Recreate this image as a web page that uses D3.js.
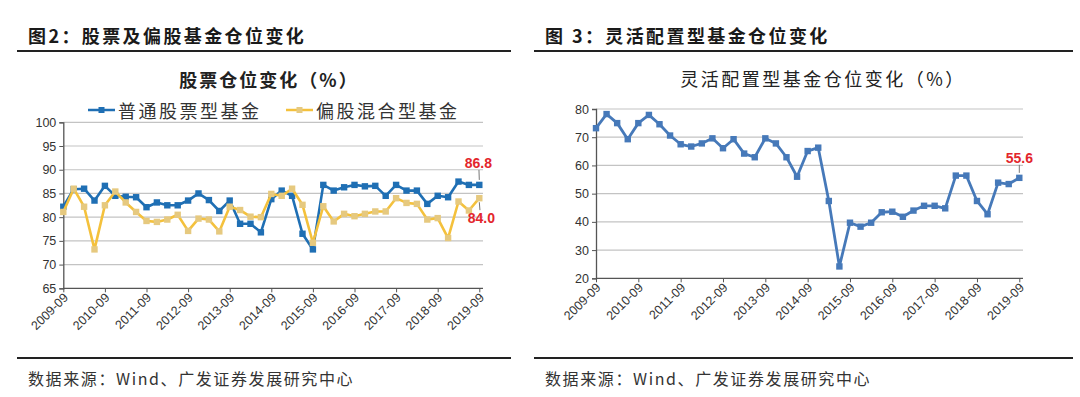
<!DOCTYPE html>
<html>
<head>
    <meta charset="UTF-8">
    <title>股票及灵活配置型基金仓位变化</title>
    <script src="https://cdn.jsdelivr.net/npm/d3@7"></script>
    <style>
        body { margin: 0; background: #fff; }
        text { font-family: "Noto Sans CJK SC", "Liberation Sans", sans-serif; }
        .num { font-family: "Liberation Sans", Arial, sans-serif; }
    </style>
</head>
<body>
<div id="chartContainer"></div>

<script type="text/javascript">
// quarterly categories, 2009-09 .. 2019-09
var quarters = [
    "2009-09","2009-12","2010-03","2010-06","2010-09","2010-12","2011-03","2011-06",
    "2011-09","2011-12","2012-03","2012-06","2012-09","2012-12","2013-03","2013-06",
    "2013-09","2013-12","2014-03","2014-06","2014-09","2014-12","2015-03","2015-06",
    "2015-09","2015-12","2016-03","2016-06","2016-09","2016-12","2017-03","2017-06",
    "2017-09","2017-12","2018-03","2018-06","2018-09","2018-12","2019-03","2019-06",
    "2019-09"
];
// tick labels shown on the x axis
var yearTicks = ["2009-09","2010-09","2011-09","2012-09","2013-09","2014-09",
                 "2015-09","2016-09","2017-09","2018-09","2019-09"];

// 图2 series (%)
var stockFund = [82.2, 85.9, 86.0, 83.5, 86.6, 84.5, 84.3, 84.2, 82.1, 83.1,
                 82.5, 82.5, 83.5, 85.0, 83.6, 81.3, 83.5, 78.6, 78.6, 76.8,
                 83.8, 85.6, 84.5, 76.5, 73.2, 86.8, 85.6, 86.3, 86.8, 86.5,
                 86.6, 84.5, 86.8, 85.6, 85.6, 82.8, 84.5, 84.2, 87.5, 86.8, 86.8];
var mixedFund = [81.1, 86.0, 82.2, 73.2, 82.5, 85.4, 83.1, 81.1, 79.2, 79.0,
                 79.5, 80.5, 77.1, 79.7, 79.5, 77.0, 82.2, 81.5, 80.1, 80.0,
                 84.9, 84.5, 86.0, 82.6, 74.6, 82.3, 79.1, 80.7, 80.2, 80.7,
                 81.2, 81.2, 84.0, 83.0, 82.8, 79.5, 79.8, 75.6, 83.3, 81.4, 84.0];
var leftTicks = [65, 70, 75, 80, 85, 90, 95, 100];

// 图3 series (%)
var flexFund = [73.2, 78.2, 75.0, 69.3, 75.0, 77.9, 74.6, 70.6, 67.5, 66.7,
                67.8, 69.6, 66.1, 69.3, 64.2, 62.9, 69.6, 67.8, 62.9, 56.0,
                65.1, 66.3, 47.4, 24.2, 39.7, 38.3, 39.7, 43.4, 43.6, 41.8,
                44.0, 45.7, 45.7, 44.8, 56.4, 56.4, 47.4, 42.7, 53.9, 53.4, 55.6];
var rightTicks = [20, 30, 40, 50, 60, 70, 80];

var svg = d3.select("#chartContainer").append("svg")
    .attr("width", 1080).attr("height", 397);

// header, rules and source note of one panel
function drawFrame(x0, x1, tx, title) {
    svg.append("text")
        .attr("x", tx).attr("y", 35)
        .attr("dominant-baseline", "central")
        .style("font-size", "18px").style("font-weight", "bold")
        .style("letter-spacing", "2.4px")
        .style("fill", "#1a1a1a")
        .text(title);
    [51, 358].forEach(function (y) {
        svg.append("line")
            .attr("x1", x0).attr("x2", x1).attr("y1", y).attr("y2", y)
            .style("stroke", "#222").style("stroke-width", 2);
    });
    svg.append("text")
        .attr("x", tx).attr("y", 378)
        .attr("dominant-baseline", "central")
        .style("font-size", "16px").style("letter-spacing", "1.6px")
        .style("fill", "#333")
        .text("数据来源：Wind、广发证券发展研究中心");
}

// axes, gridlines and category ticks of one plot
function drawAxes(x, y, ticks, gridEnd) {
    var g = svg.append("g");
    var x0 = x(0), y0 = y(ticks[0]);

    g.selectAll(".grid").data(ticks.slice(1)).enter().append("line")
        .attr("x1", x0).attr("x2", gridEnd)
        .attr("y1", function (d) { return y(d); })
        .attr("y2", function (d) { return y(d); })
        .style("stroke", "#c3c3c3").style("stroke-width", 1.2);

    var yAxis = g.append("g").attr("transform", "translate(" + x0 + ",0)")
        .call(d3.axisLeft(y).tickValues(ticks).tickSize(4).tickPadding(3));
    var xAxis = g.append("g").attr("transform", "translate(0," + y0 + ")")
        .call(d3.axisBottom(x)
            .tickValues(yearTicks.map(function (t) { return quarters.indexOf(t); }))
            .tickSize(4).tickFormat(function (i) { return quarters[i]; }));
    xAxis.select(".domain").attr("d", "M" + x0 + ",0H" + gridEnd);

    [yAxis, xAxis].forEach(function (a) {
        a.select(".domain").style("stroke", "#555").style("stroke-width", 1.3);
        a.selectAll(".tick line").style("stroke", "#555");
        a.selectAll("text").attr("class", "num")
            .style("fill", "#333").style("font-size", "12px");
    });
    yAxis.selectAll("text").style("font-size", "12.5px");
    xAxis.selectAll("text")
        .style("font-size", "12.5px")
        .style("text-anchor", "end")
        .attr("dy", null).attr("y", 0)
        .attr("transform", "translate(5,10) rotate(-45)");
}

function drawSeries(x, y, values, lineColor, markColor, width) {
    var line = d3.line()
        .x(function (d, i) { return x(i); })
        .y(function (d) { return y(d); });
    svg.append("path").datum(values)
        .attr("d", line)
        .style("fill", "none").style("stroke", lineColor)
        .style("stroke-width", width).style("stroke-linejoin", "round");
    svg.selectAll(null).data(values).enter().append("rect")
        .attr("x", function (d, i) { return x(i) - 3.2; })
        .attr("y", function (d) { return y(d) - 3.2; })
        .attr("width", 6.4).attr("height", 6.4)
        .style("fill", markColor);
}

// red value label with a short leader to the last point
function drawCallout(x, y, values, dy, dx) {
    var i = values.length - 1, px = x(i), py = y(values[i]);
    var ty = py + dy;
    svg.append("line")
        .attr("x1", px).attr("x2", px + dx / 3)
        .attr("y1", py + (dy < 0 ? -5 : 4))
        .attr("y2", ty + (dy < 0 ? 7 : -8))
        .style("stroke", "#777").style("stroke-width", 1);
    svg.append("text").attr("class", "num")
        .attr("x", px + dx).attr("y", ty)
        .attr("text-anchor", "middle").attr("dominant-baseline", "central")
        .style("font-size", "14px").style("font-weight", "bold")
        .style("fill", "#e3262c")
        .text(values[i].toFixed(1));
}

/* ---------------- 图2 ---------------- */
drawFrame(17, 511, 28, "图2：股票及偏股基金仓位变化");

svg.append("text")
    .attr("x", 269).attr("y", 79)
    .attr("text-anchor", "middle").attr("dominant-baseline", "central")
    .style("font-size", "18px").style("font-weight", "bold")
    .style("letter-spacing", "2px").style("fill", "#222")
    .text("股票仓位变化（%）");

var legendItems = [
    { name: "普通股票型基金", line: "#1f6fb4", mark: "#1f6fb4", x: 88 },
    { name: "偏股混合型基金", line: "#f4c13c", mark: "#e6c97f", x: 286 }
];
legendItems.forEach(function (d) {
    svg.append("line")
        .attr("x1", d.x).attr("x2", d.x + 27).attr("y1", 110).attr("y2", 110)
        .style("stroke", d.line).style("stroke-width", 2.5);
    svg.append("rect")
        .attr("x", d.x + 10.5).attr("y", 107).attr("width", 6).attr("height", 6)
        .style("fill", d.mark);
    svg.append("text")
        .attr("x", d.x + 30).attr("y", 110)
        .attr("dominant-baseline", "central")
        .style("font-size", "18px").style("letter-spacing", "2.5px")
        .style("fill", "#333")
        .text(d.name);
});

var xL = d3.scaleLinear().domain([0, quarters.length - 1]).range([63.3, 479.3]);
var yL = d3.scaleLinear().domain([65, 100]).range([288.3, 122.3]);
drawAxes(xL, yL, leftTicks, 483);
drawSeries(xL, yL, stockFund, "#1f6fb4", "#1f6fb4", 2.6);
drawSeries(xL, yL, mixedFund, "#f4c13c", "#e6c97f", 2.6);
drawCallout(xL, yL, stockFund, -22, -1);
drawCallout(xL, yL, mixedFund, 20, 2);

/* ---------------- 图3 ---------------- */
drawFrame(534, 1073, 545, "图 3：灵活配置型基金仓位变化");

svg.append("text")
    .attr("x", 823).attr("y", 78)
    .attr("text-anchor", "middle").attr("dominant-baseline", "central")
    .style("font-size", "18px").style("letter-spacing", "2.5px")
    .style("fill", "#222")
    .text("灵活配置型基金仓位变化（%）");

var xR = d3.scaleLinear().domain([0, quarters.length - 1]).range([596, 1019.3]);
var yR = d3.scaleLinear().domain([20, 80]).range([278.3, 109]);
drawAxes(xR, yR, rightTicks, 1023);
drawSeries(xR, yR, flexFund, "#4679b9", "#4679b9", 2.8);
drawCallout(xR, yR, flexFund, -20, 0);
</script>
</body>
</html>
